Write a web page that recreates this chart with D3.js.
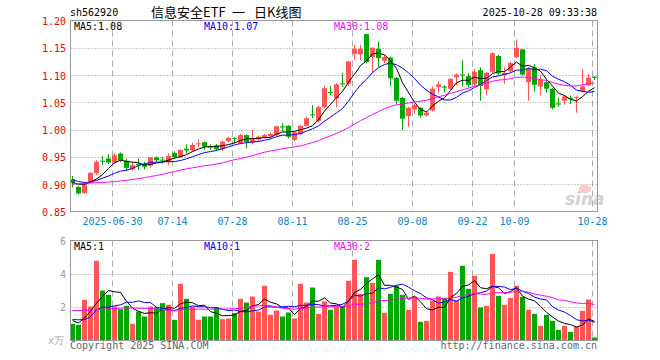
<!DOCTYPE html>
<html><head><meta charset="utf-8">
<script src="https://cdn.jsdelivr.net/npm/d3@7"></script>
<style>
body{margin:0;background:#fff}
svg{display:block}
text{font-family:"DejaVu Sans Mono","Liberation Mono",monospace;font-size:10px}
</style>
</head><body>
<svg id="c" width="660" height="360"></svg>
<script>
const dates = [
"2025-06-19","2025-06-20","2025-06-23","2025-06-24","2025-06-25","2025-06-26","2025-06-27","2025-06-30",
"2025-07-01","2025-07-02","2025-07-03","2025-07-04","2025-07-07","2025-07-08","2025-07-09","2025-07-10","2025-07-11",
"2025-07-14","2025-07-15","2025-07-16","2025-07-17","2025-07-18","2025-07-21","2025-07-22","2025-07-23","2025-07-24","2025-07-25",
"2025-07-28","2025-07-29","2025-07-30","2025-07-31","2025-08-01","2025-08-04","2025-08-05","2025-08-06","2025-08-07","2025-08-08",
"2025-08-11","2025-08-12","2025-08-13","2025-08-14","2025-08-15","2025-08-18","2025-08-19","2025-08-20","2025-08-21","2025-08-22",
"2025-08-25","2025-08-26","2025-08-27","2025-08-28","2025-08-29","2025-09-01","2025-09-02","2025-09-03","2025-09-04","2025-09-05",
"2025-09-08","2025-09-09","2025-09-10","2025-09-11","2025-09-12","2025-09-15","2025-09-16","2025-09-17","2025-09-18","2025-09-19",
"2025-09-22","2025-09-23","2025-09-24","2025-09-25","2025-09-26","2025-09-29","2025-09-30",
"2025-10-09","2025-10-10","2025-10-13","2025-10-14","2025-10-15","2025-10-16","2025-10-17","2025-10-20","2025-10-21","2025-10-22",
"2025-10-23","2025-10-24","2025-10-27","2025-10-28"];

const open = [0.909,0.895,0.884,0.903,0.920,0.943,0.947,0.940,0.956,0.943,0.927,0.937,0.937,0.934,0.949,0.945,0.940,0.957,0.950,0.965,
0.962,0.974,0.977,0.969,0.971,0.964,0.979,0.985,0.975,0.990,0.976,0.982,0.986,0.988,0.990,1.006,1.007,0.981,0.992,1.007,
1.028,1.016,1.041,1.069,1.057,1.085,1.084,1.139,1.138,1.175,1.133,1.148,1.126,1.132,1.095,1.058,1.025,1.037,1.040,1.026,
1.035,1.078,1.079,1.075,1.096,1.101,1.098,1.083,1.109,1.074,1.106,1.135,1.100,1.107,1.133,1.147,1.087,1.114,1.079,1.087,
1.075,1.048,1.053,1.058,1.058,1.070,1.081,1.097];
const high = [0.915,0.897,0.905,0.922,0.944,0.951,0.955,0.957,0.958,0.947,0.941,0.947,0.941,0.950,0.951,0.950,0.957,0.960,0.964,0.973,
0.976,0.983,0.978,0.973,0.974,0.980,0.987,0.986,0.992,0.991,0.999,0.989,0.992,0.995,1.007,1.012,1.008,0.997,1.009,1.024,
1.045,1.044,1.081,1.080,1.085,1.104,1.126,1.156,1.155,1.176,1.151,1.162,1.137,1.134,1.097,1.060,1.042,1.047,1.041,1.033,
1.079,1.089,1.081,1.094,1.103,1.127,1.104,1.111,1.114,1.106,1.142,1.137,1.114,1.125,1.165,1.148,1.115,1.120,1.100,1.092,
1.076,1.059,1.063,1.062,1.061,1.111,1.102,1.098];
const low = [0.894,0.881,0.882,0.902,0.917,0.935,0.937,0.938,0.941,0.924,0.925,0.926,0.927,0.930,0.941,0.938,0.935,0.947,0.948,0.956,
0.960,0.968,0.963,0.963,0.962,0.961,0.977,0.975,0.973,0.966,0.973,0.978,0.984,0.986,0.988,0.996,0.984,0.979,0.990,1.006,
1.021,1.013,1.039,1.063,1.041,1.078,1.080,1.128,1.128,1.122,1.104,1.115,1.122,1.079,1.047,0.999,1.005,1.029,1.022,1.024,
1.033,1.068,1.068,1.073,1.081,1.079,1.077,1.080,1.053,1.063,1.103,1.100,1.084,1.105,1.131,1.099,1.053,1.070,1.063,1.068,
1.037,1.042,1.046,1.047,1.031,1.068,1.080,1.091];
const close = [0.902,0.883,0.901,0.921,0.941,0.942,0.940,0.953,0.944,0.930,0.935,0.935,0.932,0.949,0.944,0.944,0.952,0.950,0.963,0.962,
0.972,0.975,0.969,0.967,0.964,0.978,0.985,0.984,0.990,0.977,0.983,0.987,0.990,0.992,1.006,1.004,0.987,0.995,1.007,1.021,
1.026,1.041,1.076,1.067,1.083,1.084,1.125,1.148,1.148,1.124,1.150,1.131,1.133,1.094,1.053,1.020,1.040,1.045,1.026,1.031,
1.075,1.083,1.077,1.093,1.101,1.099,1.082,1.106,1.080,1.104,1.140,1.103,1.104,1.122,1.150,1.101,1.112,1.082,1.091,1.075,
1.040,1.046,1.061,1.056,1.060,1.079,1.095,1.095];
const volume = [1.00,0.94,2.44,2.04,4.78,3.00,2.74,2.04,1.88,2.08,1.00,1.74,1.44,2.04,2.00,2.24,2.14,1.24,3.40,2.50,
2.04,1.24,1.44,1.44,2.00,1.28,1.32,1.64,2.50,2.28,2.64,1.74,3.28,1.54,1.80,1.44,1.68,1.32,3.40,2.28,
3.18,1.60,2.34,1.84,2.04,2.08,3.58,4.84,2.80,3.80,3.46,4.84,1.66,2.80,3.28,2.74,1.84,2.64,1.12,1.18,
2.40,2.64,2.56,4.12,2.40,4.48,3.10,3.88,1.98,2.08,5.20,2.68,2.14,2.56,3.28,2.62,1.84,1.60,0.88,1.54,
1.18,0.64,0.88,0.52,0.82,1.78,2.46,0.18];

// moving-average values before enough history exists
const ma5Lead  = [0.903,0.900,0.900,0.904];
const ma10Lead = [0.908,0.905,0.903,0.904,0.907,0.911,0.915,0.920,0.924];
const ma30Lead = [0.900,0.901,0.902,0.902,0.903,0.903,0.904,0.905,0.906,0.907,0.909,0.910,0.912,0.914,0.916,0.918,0.921,0.923,0.926,0.928,0.930,0.932,0.934,0.935,0.937,0.939,0.942,0.945,0.947];
const volMa5Lead  = [1.20,1.05,1.35,1.75];
const volMa10Lead = [1.26,1.24,1.26,1.42,1.84,2.00,2.00,2.08,2.14];
const volMa30Lead = [1.80,1.80,1.81,1.83,1.85,1.88,1.90,1.92,1.94,1.95,1.95,1.94,1.93,1.92,1.88,1.84,1.82,1.82,1.85,1.87,1.88,1.88,1.88,1.88,1.88,1.88,1.89,1.91,1.93];

const tickDates  = ["2025-06-30","2025-07-14","2025-07-28","2025-08-11","2025-08-25","2025-09-08","2025-09-22","2025-10-09","2025-10-28"];
const tickLabels = ["2025-06-30","07-14","07-28","08-11","08-25","09-08","09-22","10-09","10-28"];
const priceTicks = [0.85,0.90,0.95,1.00,1.05,1.10,1.15,1.20];
const volTicks = [2,4,6];
const priceLegend = ["MA5:1.08","MA10:1.07","MA30:1.08"];
const volLegend = ["MA5:1","MA10:1","MA30:2"];
const code = "sh562920";
const titleParts = ["信息安全ETF","一","日K线图"];
const stamp = "2025-10-28 09:33:38";

function movingAvg(vals, n, lead){
  return vals.map((v,i)=> i < n-1 ? lead[i] : d3.mean(vals.slice(i-n+1,i+1)));
}

const RED="#ff5555", GREEN="#00a800", MAC=["#000000","#0000ff","#ff00ff"];
const svg = d3.select("#c");
const x = d3.scaleBand().domain(dates).range([70,598]);
const y = d3.scaleLinear().domain([0.85,1.20]).range([211.5,20.5]);
const yv = d3.scaleLinear().domain([0,6]).range([340.5,240.5]);
const cx = d => x(d)+2.5;

// grid main
const gMain = svg.append("g");
gMain.selectAll("line.h").data(priceTicks.slice(1,-1)).join("line")
  .attr("x1",70.5).attr("x2",597.5)
  .attr("y1",d=>Math.round(y(d))+0.5).attr("y2",d=>Math.round(y(d))+0.5)
  .attr("stroke","#999").attr("stroke-dasharray","1,2");
gMain.selectAll("line.v").data(tickDates).join("line")
  .attr("x1",d=>x(d)+0.5).attr("x2",d=>x(d)+0.5).attr("y1",20.5).attr("y2",211.5)
  .attr("stroke","#aaa").attr("stroke-dasharray","6,4");
// grid volume
const gVol = svg.append("g");
gVol.selectAll("line.h").data(volTicks.slice(0,-1)).join("line")
  .attr("x1",70.5).attr("x2",597.5)
  .attr("y1",d=>Math.round(yv(d))+0.5).attr("y2",d=>Math.round(yv(d))+0.5)
  .attr("stroke","#999").attr("stroke-dasharray","1,2");
gVol.selectAll("line.v").data(tickDates).join("line")
  .attr("x1",d=>x(d)+0.5).attr("x2",d=>x(d)+0.5).attr("y1",240.5).attr("y2",340.5)
  .attr("stroke","#aaa").attr("stroke-dasharray","6,4");

// watermark
const wm = svg.append("g");
wm.append("ellipse").attr("cx",585).attr("cy",189).attr("rx",6).attr("ry",4.5).attr("fill","#f6cccc");
wm.append("text").attr("x",565).attr("y",205).text("sina")
  .style("font-family","DejaVu Sans").style("font-size","17px").style("font-style","italic").style("font-weight","bold")
  .attr("fill","#d2d2d2");

// candles
const idx = d3.range(dates.length);
const cg = svg.append("g");
cg.selectAll("line").data(idx).join("line")
  .attr("x1",i=>cx(dates[i])).attr("x2",i=>cx(dates[i]))
  .attr("y1",i=>y(high[i])).attr("y2",i=>y(low[i]))
  .attr("stroke",i=>close[i]>=open[i]?RED:GREEN);
cg.selectAll("rect").data(idx).join("rect")
  .attr("x",i=>x(dates[i])).attr("width",5)
  .attr("y",i=>y(Math.max(open[i],close[i])))
  .attr("height",i=>Math.max(1,Math.abs(y(open[i])-y(close[i]))))
  .attr("fill",i=>close[i]>=open[i]?RED:GREEN);

// price MAs
const pMAs = [movingAvg(close,5,ma5Lead),movingAvg(close,10,ma10Lead),movingAvg(close,30,ma30Lead)];
const line = d3.line().x((d,i)=>cx(dates[i])).y(d=>y(d));
svg.append("g").selectAll("path").data(pMAs).join("path")
  .attr("d",line).attr("fill","none").attr("stroke",(d,k)=>MAC[k]).attr("stroke-width",1);

// volume bars
svg.append("g").selectAll("rect").data(idx).join("rect")
  .attr("x",i=>x(dates[i])).attr("width",5)
  .attr("y",i=>yv(volume[i])).attr("height",i=>yv(0)-yv(volume[i]))
  .attr("fill",i=>close[i]>=open[i]?RED:GREEN);
const vMAs = [movingAvg(volume,5,volMa5Lead),movingAvg(volume,10,volMa10Lead),movingAvg(volume,30,volMa30Lead)];
const vline = d3.line().x((d,i)=>cx(dates[i])).y(d=>yv(d));
svg.append("g").selectAll("path").data(vMAs).join("path")
  .attr("d",vline).attr("fill","none").attr("stroke",(d,k)=>MAC[k]).attr("stroke-width",1);

// frames
svg.append("rect").attr("x",70.5).attr("y",20.5).attr("width",527).attr("height",191)
  .attr("fill","none").attr("stroke","#999");
svg.append("rect").attr("x",70.5).attr("y",240.5).attr("width",527).attr("height",100)
  .attr("fill","none").attr("stroke","#999");

// axes labels
svg.append("g").selectAll("text").data(priceTicks).join("text")
  .attr("x",66).attr("y",d=>y(d)+4.5).attr("text-anchor","end").attr("fill","#ee0000")
  .text(d=>d.toFixed(2));
svg.append("g").selectAll("text").data(tickDates).join("text")
  .attr("x",d=>x(d)+0.5).attr("y",225).attr("text-anchor","middle").attr("fill","#0a84cc")
  .text((d,i)=>tickLabels[i]);
svg.append("g").selectAll("text").data(volTicks).join("text")
  .attr("x",66).attr("y",d=>yv(d)+4).attr("text-anchor","end").attr("fill","#999")
  .text(d=>d);
svg.append("text").attr("x",64).attr("y",344).attr("text-anchor","end").attr("fill","#aaa").text("x万");

// legends
const legX = [74,204,334];
svg.append("g").selectAll("text").data(priceLegend).join("text")
  .attr("x",(d,i)=>legX[i]).attr("y",29.5).attr("fill",(d,i)=>MAC[i]).text(d=>d);
svg.append("g").selectAll("text").data(volLegend).join("text")
  .attr("x",(d,i)=>legX[i]).attr("y",249.5).attr("fill",(d,i)=>MAC[i]).text(d=>d);

// header and footer
svg.append("text").attr("x",70).attr("y",16).attr("fill","#000").text(code);
const titleX = [151,232,254];
svg.append("g").selectAll("text").data(titleParts).join("text")
  .attr("x",(d,i)=>titleX[i]).attr("y",17).attr("fill","#000")
  .style("font-family","'Noto Sans CJK SC'").style("font-size","13px").text(d=>d);
svg.append("text").attr("x",597).attr("y",16).attr("text-anchor","end").attr("fill","#000").text(stamp);
svg.append("text").attr("x",70).attr("y",348.5).attr("fill","#666").text("Copyright 2025 SINA.COM");
svg.append("text").attr("x",597).attr("y",348.5).attr("text-anchor","end").attr("fill","#666").text("http://finance.sina.com.cn");
</script>
</body></html>
